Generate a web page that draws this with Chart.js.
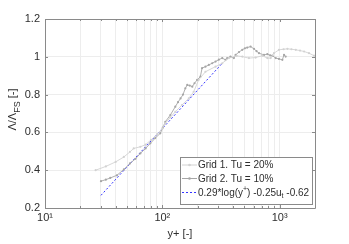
<!DOCTYPE html>
<html><head><meta charset="utf-8">
<script src="https://cdn.jsdelivr.net/npm/chart.js@4/dist/chart.umd.min.js"></script>
<style>html,body{margin:0;padding:0;background:#fff}#wrap{width:349px;height:244px;position:relative}</style>
</head><body><div id="wrap"><canvas id="c" width="349" height="244"></canvas></div>
<script>
// ---- data ----
const grid1X = [27, 33, 40, 47, 53, 57, 65, 72, 80, 90, 100, 106, 117, 129, 147, 168, 185, 204, 233, 284, 324, 369, 430, 480, 547, 624, 711, 785, 838, 894, 986, 1080, 1164, 1260, 1371, 1490, 1615, 1778, 1963, 2030];
const grid1Y = [0.400, 0.420, 0.444, 0.470, 0.497, 0.515, 0.524, 0.535, 0.560, 0.590, 0.620, 0.648, 0.680, 0.709, 0.745, 0.780, 0.815, 0.878, 0.921, 0.948, 0.966, 0.993, 1.005, 1.001, 0.993, 0.996, 1.006, 0.993, 0.993, 1.019, 1.037, 1.040, 1.042, 1.040, 1.037, 1.033, 1.028, 1.019, 1.006, 1.005];
const grid2X = [30, 33, 36, 41, 47, 53, 59, 65, 72, 79, 87, 96, 101, 106, 117, 129, 136, 143, 150, 157, 163, 171, 180, 188, 198, 211, 218, 233, 249, 266, 284, 303, 324, 345, 357, 381, 407, 421, 450, 480, 505, 529, 565, 604, 635, 666, 735, 785, 830, 867, 925, 986, 1054, 1089, 1125];
const grid2Y = [0.342, 0.350, 0.359, 0.373, 0.404, 0.436, 0.460, 0.489, 0.515, 0.542, 0.570, 0.595, 0.625, 0.656, 0.692, 0.736, 0.760, 0.780, 0.800, 0.833, 0.851, 0.848, 0.842, 0.860, 0.878, 0.895, 0.940, 0.948, 0.957, 0.966, 0.975, 0.985, 0.993, 0.984, 0.993, 1.001, 0.993, 1.010, 1.025, 1.037, 1.045, 1.049, 1.054, 1.042, 1.030, 1.019, 1.010, 1.014, 1.008, 1.006, 0.993, 0.989, 0.984, 1.010, 1.001];
const fitX = [30, 320];
const fitY = [0.267, 0.962];
const seriesLabels = ['Grid 1. Tu = 20%', 'Grid 2. Tu = 10%', '0.29*log(y+) -0.25ut -0.62'];
const xTicks = [10, 20, 30, 40, 50, 60, 70, 80, 90, 100, 200, 300, 400, 500, 600, 700, 800, 900, 1000, 2000];
const xTickLabels = {10: '10¹', 100: '10²', 1000: '10³'};
const yTicks = [0.2, 0.4, 0.6, 0.8, 1.0, 1.2];

const FONT = '"Liberation Sans", Arial, sans-serif';
const TXT = '#2e2e2e';
const AX = '#8a8a8a';
const C1 = '#d2d2d2';
const C2 = '#a6a6a6';
const CB = '#3434ff';

const pts = (xs, ys) => xs.map((x, i) => ({x, y: ys[i]}));

const boxPlugin = {
  id: 'boxPlugin',
  afterDraw(chart) {
    const ctx = chart.ctx, a = chart.chartArea, xs = chart.scales.x, ys = chart.scales.y;
    ctx.save();
    ctx.strokeStyle = AX; ctx.lineWidth = 1;
    ctx.beginPath();
    ctx.rect(Math.round(a.left) + 0.5, Math.round(a.top) + 0.5, Math.round(a.right - a.left), Math.round(a.bottom - a.top));
    ctx.stroke();
    // inward ticks
    ctx.beginPath();
    xTicks.forEach(v => {
      const px = Math.round(xs.getPixelForValue(v)) + 0.5;
      const len = (v === 10 || v === 100 || v === 1000) ? 3 : 2;
      ctx.moveTo(px, a.bottom); ctx.lineTo(px, a.bottom - len);
      ctx.moveTo(px, a.top); ctx.lineTo(px, a.top + len);
    });
    yTicks.forEach(v => {
      const py = Math.round(ys.getPixelForValue(v)) + 0.5;
      ctx.moveTo(a.left, py); ctx.lineTo(a.left + 3, py);
      ctx.moveTo(a.right, py); ctx.lineTo(a.right - 3, py);
    });
    ctx.stroke();

    // y-axis title with subscript
    ctx.fillStyle = TXT;
    ctx.translate(16, (a.top + a.bottom) / 2 - 4);
    ctx.rotate(-Math.PI / 2);
    const big = '11px ' + FONT, small = '9px ' + FONT;
    const p1 = 'Λ/Λ', p2 = 'FS', p3 = ' [-]';
    ctx.font = big; const w1 = ctx.measureText(p1).width, w3 = ctx.measureText(p3).width;
    ctx.font = small; const w2 = ctx.measureText(p2).width;
    let x0 = -(w1 + w2 + w3) / 2;
    ctx.textBaseline = 'alphabetic'; ctx.textAlign = 'left';
    ctx.font = big; ctx.fillText(p1, x0, 0); x0 += w1;
    ctx.font = small; ctx.fillText(p2, x0, 3.5); x0 += w2;
    ctx.font = big; ctx.fillText(p3, x0, 0);
    ctx.restore();

    // legend
    ctx.save();
    const L = 180.5, T = 157.5, W = 132, H = 47;
    ctx.fillStyle = '#fff'; ctx.fillRect(L, T, W, H);
    ctx.strokeStyle = AX; ctx.lineWidth = 1; ctx.strokeRect(L, T, W, H);
    const rows = [165, 178.5, 192.5];
    const ds = chart.data.datasets;
    rows.forEach((ry, i) => {
      const d = ds[i];
      ctx.strokeStyle = d.borderColor; ctx.lineWidth = 1;
      ctx.setLineDash(d.borderDash || []);
      ctx.beginPath(); ctx.moveTo(182, ry); ctx.lineTo(197, ry); ctx.stroke();
      ctx.setLineDash([]);
      if (d.pointRadius > 0) {
        ctx.fillStyle = d.borderColor;
        ctx.beginPath(); ctx.arc(189.5, ry, 1.3, 0, Math.PI * 2); ctx.fill();
      }
      ctx.fillStyle = TXT; ctx.textBaseline = 'middle'; ctx.textAlign = 'left';
      ctx.font = '10px ' + FONT;
      if (i < 2) {
        ctx.fillText(d.label, 198, ry + 0.5);
      } else {
        const parts = [['0.29*log(y', 10, 0], ['+', 7, -4], [') -0.25u', 10, 0], ['t', 7, 3], [' -0.62', 10, 0]];
        let x = 198;
        parts.forEach(([s, sz, dy]) => {
          ctx.font = sz + 'px ' + FONT;
          ctx.fillText(s, x, ry + 0.5 + dy);
          x += ctx.measureText(s).width;
        });
      }
    });
    ctx.restore();
  }
};

new Chart(document.getElementById('c'), {
  type: 'line',
  data: {
    datasets: [
      {label: seriesLabels[0], data: pts(grid1X, grid1Y), borderColor: C1, backgroundColor: C1, borderWidth: 0.9, pointRadius: 1.1, pointBorderWidth: 0, pointBackgroundColor: C1, tension: 0, fill: false},
      {label: seriesLabels[1], data: pts(grid2X, grid2Y), borderColor: C2, backgroundColor: C2, borderWidth: 0.9, pointRadius: 1.1, pointBorderWidth: 0, pointBackgroundColor: C2, tension: 0, fill: false},
      {label: seriesLabels[2], data: pts(fitX, fitY), borderColor: CB, backgroundColor: CB, borderWidth: 1, borderDash: [2, 2], pointRadius: 0, tension: 0, fill: false}
    ]
  },
  options: {
    responsive: false, animation: false, parsing: true,
    layout: {padding: {top: 19, right: 34, left: 0, bottom: 0}},
    plugins: {legend: {display: false}, tooltip: {enabled: false}},
    scales: {
      x: {
        type: 'logarithmic', min: 10, max: 2000,
        afterBuildTicks: s => { s.ticks = xTicks.map(v => ({value: v})); },
        afterFit: s => { s.height = 36; },
        ticks: {autoSkip: false, maxRotation: 0, padding: 3, color: TXT, font: {family: FONT, size: 11},
          callback: v => xTickLabels[v] || ''},
        grid: {color: '#ededed', drawTicks: false},
        border: {display: false},
        title: {display: true, text: 'y+ [-]', color: TXT, font: {family: FONT, size: 11}, padding: {top: 0, bottom: 3}}
      },
      y: {
        type: 'linear', min: 0.2, max: 1.2,
        afterBuildTicks: s => { s.ticks = yTicks.map(v => ({value: v})); },
        afterFit: s => { s.width = 45; },
        ticks: {padding: 5, color: TXT, font: {family: FONT, size: 11}, callback: v => String(+v.toFixed(1))},
        grid: {color: '#ededed', drawTicks: false},
        border: {display: false}
      }
    }
  },
  plugins: [boxPlugin]
});
</script></body></html>
